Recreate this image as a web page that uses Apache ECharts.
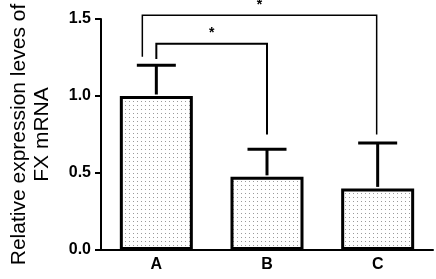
<!DOCTYPE html>
<html>
<head>
<meta charset="utf-8">
<script src="https://cdn.jsdelivr.net/npm/echarts@6/dist/echarts.min.js"></script>
<style>
  html, body { margin: 0; padding: 0; background: #fff; }
  #main { width: 436px; height: 279px; }
</style>
</head>
<body>
<div id="main"></div>
<script>
var groups = ['A', 'B', 'C'];
var means = [1.0, 0.475, 0.40];
var errUpper = [1.20, 0.655, 0.695];
var yTicks = [0, 0.5, 1.0, 1.5];
// [from group, to group, bar level, left leg end, right leg end, label]
var brackets = [
  [0, 1, 1.34, 1.24, 0.75, '*'],
  [0, 2, 1.525, 1.255, 0.75, '*']
];

var dom = document.getElementById('main');
var myChart = echarts.init(dom);

// dotted fill like the original
var pat = document.createElement('canvas');
pat.width = 4; pat.height = 4;
var pctx = pat.getContext('2d');
pctx.fillStyle = '#ffffff';
pctx.fillRect(0, 0, 4, 4);
pctx.fillStyle = '#9a9a9a';
pctx.fillRect(1, 1, 1, 1);

var font = '"Liberation Sans", Arial, sans-serif';
var legShift = [[0, 0], [-14, -1]];
var lineW = [2, 1.5];

var option = {
  backgroundColor: '#ffffff',
  animation: false,
  grid: { left: 84, right: 3, top: 19, bottom: 29 },
  xAxis: {
    type: 'category',
    data: groups,
    axisLine: { lineStyle: { color: '#000', width: 2 } },
    axisTick: { alignWithLabel: true, length: 5, lineStyle: { color: '#000', width: 1.5 } },
    axisLabel: { color: '#000', fontSize: 16, fontWeight: 'bold', fontFamily: font, margin: 7 }
  },
  yAxis: {
    type: 'value',
    min: 0, max: 1.5, interval: 0.5,
    name: 'Relative expression leves of\nFX mRNA',
    nameLocation: 'middle',
    nameGap: 47,
    nameTextStyle: { color: '#000', fontSize: 21, lineHeight: 23, fontFamily: font },
    splitLine: { show: false },
    axisLine: { show: true, lineStyle: { color: '#000', width: 2 } },
    axisTick: { show: true, length: 6, lineStyle: { color: '#000', width: 2 } },
    axisLabel: {
      color: '#000', fontSize: 16, fontWeight: 'bold', fontFamily: font, margin: 10,
      formatter: function (v) { return v.toFixed(1); }
    }
  },
  series: [
    {
      type: 'bar',
      data: means,
      barWidth: 73,
      z: 2,
      itemStyle: {
        color: { image: pat, repeat: 'repeat' },
        borderColor: '#000',
        borderWidth: 3
      }
    },
    {
      type: 'custom',
      z: 3,
      data: groups.map(function (g, i) { return [i, means[i], errUpper[i]]; }),
      renderItem: function (params, api) {
        var base = api.coord([api.value(0), api.value(1)]);
        var top = api.coord([api.value(0), api.value(2)]);
        var hw = 19.5;
        return {
          type: 'group',
          children: [
            { type: 'line', shape: { x1: base[0], y1: base[1] - 1.5, x2: top[0], y2: top[1] },
              style: { stroke: '#000', lineWidth: 3 } },
            { type: 'line', shape: { x1: top[0] - hw, y1: top[1], x2: top[0] + hw, y2: top[1] },
              style: { stroke: '#000', lineWidth: 3 } }
          ]
        };
      }
    },
    {
      type: 'custom',
      z: 4,
      clip: false,
      data: brackets,
      renderItem: function (params, api) {
        var b = brackets[params.dataIndex];
        var sh = legShift[params.dataIndex];
        var l = api.coord([b[0], b[2]]);
        var r = api.coord([b[1], b[2]]);
        var lb = api.coord([b[0], b[3]]);
        var rb = api.coord([b[1], b[4]]);
        var xl = l[0] + sh[0], xr = r[0] + sh[1];
        var w = lineW[params.dataIndex];
        return {
          type: 'group',
          children: [
            { type: 'polyline', shape: { points: [[xl, lb[1]], [xl, l[1]], [xr, l[1]], [xr, rb[1]]] },
              style: { stroke: '#000', lineWidth: w, fill: null } },
            { type: 'text', style: { text: b[5], x: (xl + xr) / 2, y: l[1] - 3,
              textAlign: 'center', textVerticalAlign: 'bottom',
              font: 'bold 14px ' + font, fill: '#000' } }
          ]
        };
      }
    }
  ]
};

if (option && typeof option === 'object') {
  myChart.setOption(option);
}

window.onresize = function () {
  myChart.resize();
};
</script>
</body>
</html>
